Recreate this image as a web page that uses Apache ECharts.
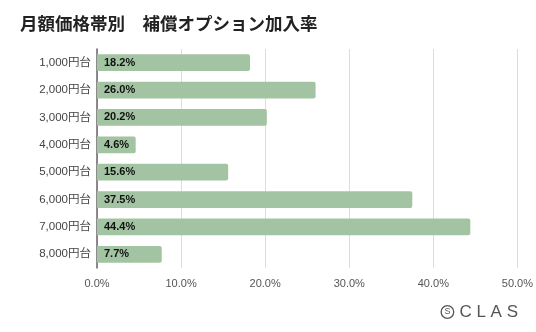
<!DOCTYPE html>
<html>
<head>
<meta charset="utf-8">
<script src="https://cdn.jsdelivr.net/npm/echarts@6/dist/echarts.min.js"></script>
<style>
  html, body { margin: 0; padding: 0; background: #fff; }
  #chart { width: 536px; height: 332px; }
</style>
</head>
<body>
<div id="chart"></div>
<script>
// Monthly price band categories (top to bottom)
const priceBands = ['1,000円台', '2,000円台', '3,000円台', '4,000円台', '5,000円台', '6,000円台', '7,000円台', '8,000円台'];
// Share of subscribers who add the protection option (%)
const joinRates = [18.2, 26.0, 20.2, 4.6, 15.6, 37.5, 44.4, 7.7];
// Value axis ticks (%)
const xTicks = [0, 10, 20, 30, 40, 50];

const chart = echarts.init(document.getElementById('chart'), null, { renderer: 'canvas' });
const CJK = '"Noto Sans CJK JP", "Noto Sans", sans-serif';
const MIXED = '"Liberation Sans", "Noto Sans CJK JP", sans-serif';

chart.setOption({
  backgroundColor: '#ffffff',
  animation: false,
  title: {
    text: '月額価格帯別　補償オプション加入率',
    left: 15,
    top: 10,
    textStyle: { fontFamily: CJK, fontSize: 17.5, fontWeight: 'bold', color: '#222' }
  },
  grid: { left: 97, right: 16, top: 49, bottom: 64, containLabel: false },
  xAxis: {
    type: 'value',
    min: xTicks[0],
    max: xTicks[xTicks.length - 1],
    interval: xTicks[1] - xTicks[0],
    axisLine: { show: false },
    axisTick: { show: false },
    axisLabel: {
      formatter: v => v.toFixed(1) + '%',
      fontFamily: '"Liberation Sans", Arial, sans-serif',
      fontSize: 11,
      color: '#555',
      margin: 10
    },
    splitLine: { show: true, lineStyle: { color: '#dcdcdc', width: 1 } }
  },
  yAxis: {
    type: 'category',
    data: priceBands,
    inverse: true,
    axisLine: { show: true, lineStyle: { color: '#666', width: 1.5 } },
    axisTick: { show: false },
    axisLabel: {
      fontFamily: MIXED,
      fontSize: 11.5,
      color: '#444',
      margin: 6
    }
  },
  series: [{
    type: 'bar',
    data: joinRates,
    barWidth: '61%',
    itemStyle: { color: '#a3c4a2', borderRadius: [0, 2, 2, 0] },
    label: {
      show: true,
      position: 'insideLeft',
      offset: [2, 0],
      formatter: p => p.value.toFixed(1) + '%',
      fontFamily: '"Liberation Sans", Arial, sans-serif',
      fontSize: 11,
      fontWeight: 'bold',
      color: '#111'
    }
  }],
  graphic: [
    {
      type: 'group',
      right: 18,
      bottom: 11,
      children: [
        { type: 'circle', shape: { cx: 7, cy: 8, r: 6.3 }, style: { fill: 'none', stroke: '#555', lineWidth: 1.3 } },
        {
          type: 'text',
          x: 7,
          y: 8,
          style: {
            text: 'S',
            align: 'center',
            verticalAlign: 'middle',
            fontFamily: '"Liberation Sans", Arial, sans-serif',
            fontSize: 9,
            fill: '#555'
          }
        },
        {
          type: 'text',
          x: 19,
          y: 0,
          style: {
            text: 'C L A S',
            fontFamily: '"Liberation Sans", Arial, sans-serif',
            fontSize: 17,
            fill: '#555'
          }
        }
      ]
    }
  ]
});
</script>
</body>
</html>
